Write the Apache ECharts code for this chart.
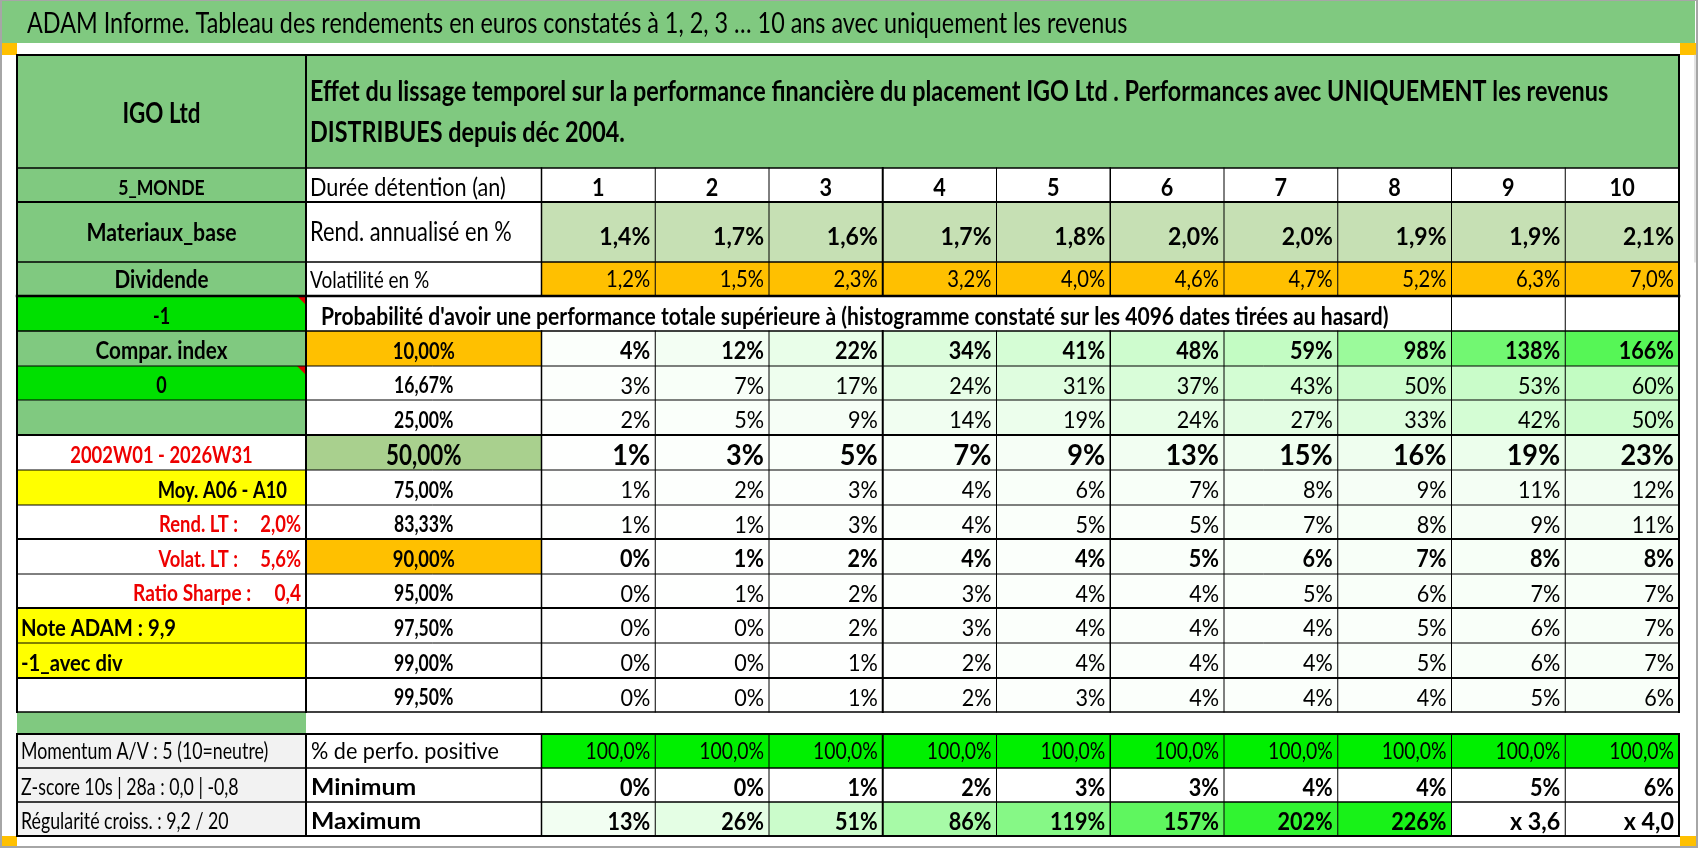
<!DOCTYPE html>
<html><head><meta charset="utf-8">
<script src="https://cdn.jsdelivr.net/npm/echarts@6/dist/echarts.min.js"></script>
<style>html,body{margin:0;padding:0;background:#fff}#c{width:1698px;height:848px}</style>
</head><body><div id="c"></div>
<script>
// ---------------- DATA ----------------
const titre = 'ADAM Informe. Tableau des rendements en euros constatés à 1, 2, 3 … 10 ans avec uniquement les revenus';
const nomPlacement = 'IGO Ltd';
const enTete = 'Effet du lissage temporel sur la performance financière du placement IGO Ltd . Performances avec UNIQUEMENT les revenus\nDISTRIBUES depuis déc 2004.';
const durees = [1, 2, 3, 4, 5, 6, 7, 8, 9, 10];
const rendAnnualise = [1.4, 1.7, 1.6, 1.7, 1.8, 2.0, 2.0, 1.9, 1.9, 2.1];
const volatilite = [1.2, 1.5, 2.3, 3.2, 4.0, 4.6, 4.7, 5.2, 6.3, 7.0];
const seuils = [10, 16.67, 25, 50, 75, 83.33, 90, 95, 97.5, 99, 99.5];
const proba10 = [4, 12, 22, 34, 41, 48, 59, 98, 138, 166];
const proba1667 = [3, 7, 17, 24, 31, 37, 43, 50, 53, 60];
const proba25 = [2, 5, 9, 14, 19, 24, 27, 33, 42, 50];
const proba50 = [1, 3, 5, 7, 9, 13, 15, 16, 19, 23];
const proba75 = [1, 2, 3, 4, 6, 7, 8, 9, 11, 12];
const proba8333 = [1, 1, 3, 4, 5, 5, 7, 8, 9, 11];
const proba90 = [0, 1, 2, 4, 4, 5, 6, 7, 8, 8];
const proba95 = [0, 1, 2, 3, 4, 4, 5, 6, 7, 7];
const proba975 = [0, 0, 2, 3, 4, 4, 4, 5, 6, 7];
const proba99 = [0, 0, 1, 2, 4, 4, 4, 5, 6, 7];
const proba995 = [0, 0, 1, 2, 3, 4, 4, 4, 5, 6];
const perfPositive = [100.0, 100.0, 100.0, 100.0, 100.0, 100.0, 100.0, 100.0, 100.0, 100.0];
const minimum = [0, 0, 1, 2, 3, 3, 4, 4, 5, 6];
const maximum = [13, 26, 51, 86, 119, 157, 202, 226, 360, 400];
const etiquettesHaut = ['5_MONDE', 'Materiaux_base', 'Dividende', '-1', 'Compar. index', '0', ''];
const periode = '2002W01 - 2026W31';
const moyenne = 'Moy. A06 - A10';
const rendLT = 2.0, volatLT = 5.6, ratioSharpe = 0.4, noteAdam = 9.9;
const methode = '-1_avec div';
const etiquettesLignes = ['Durée détention (an)', 'Rend. annualisé en %', 'Volatilité en %'];
const titreProba = "Probabilité d'avoir une performance totale supérieure à (histogramme constaté sur les 4096 dates tirées au hasard)";
const etiquettesBas = ['% de perfo. positive', 'Minimum', 'Maximum'];
const indicateursBas = ['Momentum A/V : 5 (10=neutre)', 'Z-score 10s | 28a : 0,0 | -0,8', 'Régularité croiss. : 9,2 / 20'];

// ---------------- LAYOUT / STYLE ----------------
const FONT = 'Lato, "Open Sans", sans-serif';
const SX = 0.8;
const W = 1698, H = 848;
const colX = [17, 306, 541.5];
for (let i = 1; i <= 10; i++) colX.push(541.5 + i * 113.75);
const rowY = [55, 168, 202, 262, 296, 331, 366, 400, 435, 470, 505, 539, 574, 608, 643, 678, 712, 734, 768, 802, 836];
const GREEN = '#80c980', LGREEN = '#c6e0b4', ORANGE = '#ffc000', BGREEN = '#00e000',
      MGREEN = '#a9d08e', YELLOW = '#ffff00', GREY = '#f2f2f2', RED = '#ee0000', PGREEN = '#00f000';

const fr = (v, d) => v.toFixed(d).replace('.', ',');
const pct = (v, d) => fr(v, d) + '%';
function heat(v) {
  const t = Math.min(v / 250, 1);
  const r = Math.round(255 * (1 - t));
  const g = Math.round(255 - 14 * t);
  return 'rgb(' + r + ',' + g + ',' + r + ')';
}

const cells = [];
function box(x0, x1, y0, y1, o) { cells.push(Object.assign({ x0, x1, y0, y1 }, o || {})); }
function cell(c0, c1, r0, r1, o) { box(colX[c0], colX[c1], rowY[r0], rowY[r1], o); }

// frame
box(0, 1695, 0, 43, { fill: GREEN, text: titre, align: 'left', pad: 27, size: 28.3, sx: 0.826, dy: 2 });
box(0, 17, 43, 55, { fill: ORANGE });
box(1680, 1696, 43, 55, { fill: ORANGE });
box(0, 17, 836, 848, { fill: ORANGE });
box(1680, 1696, 836, 848, { fill: ORANGE });

// header row
cell(0, 1, 0, 1, { fill: GREEN, text: nomPlacement, size: 28, bold: true, dy: 2.5 });
cell(1, 12, 0, 1, { fill: GREEN, text: enTete, align: 'left', pad: 4, size: 28, sx: 0.835, bold: true, lh: 40.5, dy: 1.2 });

// left column, upper block
const upSizes = [21, 25, 24, 22.5, 24, 22.5, 22];
const upSx = [0.84, 0.85, 0.86, 0.8, 0.86, 0.8, 0.8];
etiquettesHaut.forEach((t, i) => {
  const r = i + 1;
  const bright = (t === '-1' || t === '0');
  cell(0, 1, r, r + 1, { fill: bright ? BGREEN : GREEN, text: t, size: upSizes[i], sx: upSx[i], bold: true,
    dy: r === 2 ? 1 : (r === 3 ? 1.5 : 3), tri: bright });
});
cell(0, 1, 8, 9, { text: periode, color: RED, size: 23, bold: true });
cell(0, 1, 9, 10, { fill: YELLOW, text: moyenne, align: 'right', pad: 19, size: 23, bold: true });
cell(0, 1, 10, 11, { text: 'Rend. LT :     ' + pct(rendLT, 1), color: RED, align: 'right', pad: 5, size: 23, bold: true });
cell(0, 1, 11, 12, { text: 'Volat. LT :     ' + pct(volatLT, 1), color: RED, align: 'right', pad: 5, size: 23, bold: true });
cell(0, 1, 12, 13, { text: 'Ratio Sharpe :     ' + fr(ratioSharpe, 1), color: RED, align: 'right', pad: 5, size: 23, sx: 0.83, bold: true });
cell(0, 1, 13, 14, { fill: YELLOW, text: 'Note ADAM : ' + fr(noteAdam, 1), align: 'left', pad: 4, size: 23.5, sx: 0.86, bold: true });
cell(0, 1, 14, 15, { fill: YELLOW, text: methode, align: 'left', pad: 4, size: 23.5, sx: 0.86, bold: true });
cell(0, 1, 16, 17, { fill: GREEN });
indicateursBas.forEach((t, i) => {
  cell(0, 1, 17 + i, 18 + i, { fill: GREY, text: t, align: 'left', pad: 4, size: 22.5, sx: 0.79, dy: i === 0 ? 1 : 3 });
});

// second column labels
const labSizes = [25.5, 26, 23.5];
const labSx = [0.85, 0.84, 0.81];
etiquettesLignes.forEach((t, i) => {
  cell(1, 2, 1 + i, 2 + i, { text: t, align: 'left', pad: 4, size: labSizes[i], sx: labSx[i], dy: i === 1 ? 1 : (i === 2 ? 1.5 : 3) });
});
cell(1, 10, 4, 5, { text: titreProba, align: 'left', pad: 15, size: 24.5, sx: 0.86, bold: true, dy: 3.5 });
seuils.forEach((s, i) => {
  const r = 5 + i;
  const fill = (s === 10 || s === 90) ? ORANGE : (s === 50 ? MGREEN : null);
  cell(1, 2, r, r + 1, { fill, text: pct(s, 2), size: s === 50 ? 28 : ((s === 10 || s === 90) ? 23 : 22), bold: true });
});
const basSizes = [22.5, 22.5, 22.5];
const basSx = [0.96, 1.1, 1.1];
etiquettesBas.forEach((t, i) => {
  cell(1, 2, 17 + i, 18 + i, { text: t, align: 'left', pad: 5, size: basSizes[i], sx: basSx[i], bold: i > 0, dy: i === 0 ? 1 : 3 });
});

// data columns
const DSX = 0.9;
const probaRows = [proba10, proba1667, proba25, proba50, proba75, proba8333, proba90, proba95, proba975, proba99, proba995];
for (let j = 0; j < 10; j++) {
  const c = 2 + j;
  cell(c, c + 1, 1, 2, { text: String(durees[j]), size: 24, sx: DSX, bold: true });
  cell(c, c + 1, 2, 3, { fill: LGREEN, text: pct(rendAnnualise[j], 1), align: 'right', size: 24.5, sx: 0.94, bold: true, dy: 5 });
  cell(c, c + 1, 3, 4, { fill: ORANGE, text: pct(volatilite[j], 1), align: 'right', size: 23.5, sx: 0.86, dy: 0.5 });
  probaRows.forEach((row, i) => {
    const s = seuils[i];
    const bold = (s === 10 || s === 50 || s === 90);
    cell(c, c + 1, 5 + i, 6 + i, { fill: heat(row[j]), text: pct(row[j], 0), align: 'right',
      size: s === 50 ? 28.5 : 24, sx: s === 50 ? 0.95 : DSX, bold });
  });
  cell(c, c + 1, 17, 18, { fill: PGREEN, text: pct(perfPositive[j], 1), align: 'right', size: 22.5, sx: 0.86, dy: 1 });
  cell(c, c + 1, 18, 19, { text: pct(minimum[j], 0), align: 'right', size: 24, sx: DSX, bold: true });
  const mx = maximum[j];
  cell(c, c + 1, 19, 20, { fill: mx < 300 ? heat(mx) : null, text: mx < 300 ? pct(mx, 0) : 'x ' + fr(mx / 100, 1),
    align: 'right', size: 24, sx: mx < 300 ? DSX : 0.97, bold: true, dy: 3.5 });
}

// grid lines
const lines = [];
const hW = [2, 1.5, 2, 1.5, 2.5, 1.5, 1, 1, 2, 1, 1, 2, 1, 2, 1, 2, 1.5, 2, 1.5, 1.5, 2];
rowY.forEach((y, r) => lines.push([colX[0], y, colX[12], y, hW[r], '#000']));
const vW = [2, 2, 1.5, 1, 1, 2, 1, 1.5, 1, 1, 1, 1, 2];
colX.forEach((x, c) => {
  let segs;
  if (c === 0 || c === 1 || c === 12) segs = [[0, 16], [17, 20]];
  else if (c <= 9) segs = [[1, 4], [5, 16], [17, 20]];
  else segs = [[1, 16], [17, 20]];
  segs.forEach(s => lines.push([x, rowY[s[0]], x, rowY[s[1]], vW[c], '#000']));
});
// outer frame of picture
lines.push([1, 0, 1, H, 2, '#a6a6a6']);
lines.push([0, H - 1, W, H - 1, 2, '#a6a6a6']);
lines.push([W - 1, 0, W - 1, H, 2, '#a6a6a6']);
lines.push([0, 0.5, W, 0.5, 1, '#a6a6a6']);
lines.push([1695, 55, 1695, 262, 1, '#c8c8c8']);

// ---------------- CHART ----------------
const chart = echarts.init(document.getElementById('c'), null, { renderer: 'canvas' });
chart.setOption({
  animation: false,
  backgroundColor: '#ffffff',
  grid: { left: 0, right: 0, top: 0, bottom: 0 },
  xAxis: { type: 'value', min: 0, max: W, show: false },
  yAxis: { type: 'value', min: 0, max: H, inverse: true, show: false },
  series: [
    {
      type: 'custom', silent: true, clip: false,
      encode: { x: [0, 1], y: [2, 3] },
      data: cells.map(c => [c.x0, c.x1, c.y0, c.y1]),
      renderItem: function (params, api) {
        const c = cells[params.dataIndex];
        const p0 = api.coord([api.value(0), api.value(2)]);
        const p1 = api.coord([api.value(1), api.value(3)]);
        const x0 = p0[0], y0 = p0[1], x1 = p1[0], y1 = p1[1];
        const ch = [];
        if (c.fill) ch.push({ type: 'rect', shape: { x: x0, y: y0, width: x1 - x0, height: y1 - y0 }, style: { fill: c.fill } });
        if (c.tri) ch.push({ type: 'polygon', shape: { points: [[x1 - 9, y0], [x1, y0], [x1, y0 + 9]] }, style: { fill: '#e00000' } });
        if (c.text) {
          const pad = c.pad != null ? c.pad : 5;
          const al = c.align || 'center';
          const ax = al === 'left' ? x0 + pad : (al === 'right' ? x1 - pad : (x0 + x1) / 2);
          const ay = (y0 + y1) / 2 + (c.dy != null ? c.dy : 3);
          const st = { text: c.text, x: 0, y: 0, fill: c.color || '#000',
            font: (c.bold ? 'bold ' : '') + c.size + 'px ' + FONT, align: al, verticalAlign: 'middle' };
          if (c.lh) st.lineHeight = c.lh;
          ch.push({ type: 'text', x: ax, y: ay, scaleX: c.sx || SX, style: st });
        }
        return { type: 'group', children: ch };
      }
    },
    {
      type: 'custom', silent: true, clip: false,
      encode: { x: [0, 2], y: [1, 3] },
      data: lines.map(l => [l[0], l[1], l[2], l[3]]),
      renderItem: function (params, api) {
        const l = lines[params.dataIndex];
        const a = api.coord([api.value(0), api.value(1)]);
        const b = api.coord([api.value(2), api.value(3)]);
        return { type: 'line', shape: { x1: a[0], y1: a[1], x2: b[0], y2: b[1] },
          style: { stroke: l[5], lineWidth: l[4], lineCap: 'square' } };
      }
    }
  ]
});
</script>
</body></html>
